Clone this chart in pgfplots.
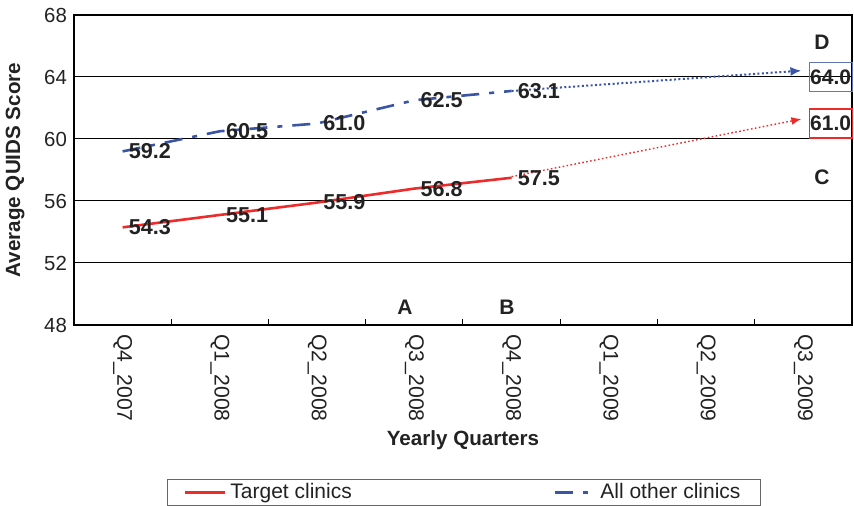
\documentclass[border=0pt]{standalone}
\usepackage{fontspec}
\setmainfont{Liberation Sans}
\usepackage{pgfplots}
\pgfplotsset{compat=1.18}
\usetikzlibrary{arrows.meta}
\definecolor{tred}{HTML}{EE2B2B}
\definecolor{oblue}{HTML}{3A55A6}
\definecolor{txt}{HTML}{222222}
\begin{document}
\begin{tikzpicture}
\begin{axis}[
  scale only axis, width=389pt, height=155pt,
  xmin=-0.5, xmax=7.5, ymin=48, ymax=68,
  clip=false,
  ytick={48,52,56,60,64,68},
  ymajorgrids, grid style={black, line width=0.5pt},
  xtick={0,...,7},
  xticklabels={Q4\_2007,Q1\_2008,Q2\_2008,Q3\_2008,Q4\_2008,Q1\_2009,Q2\_2009,Q3\_2009},
  minor xtick={0.5,1.5,...,6.5},
  tick align=inside,
  major tick length=0pt, minor tick length=3pt,
  xtick pos=left, ytick pos=left,
  ytick style={draw=none},
  minor tick style={black, line width=0.5pt},
  /pgf/number format/assume math mode=true,
  tick label style={font=\fontsize{10.2}{11}\selectfont, text=txt},
  xticklabel style={rotate=-90, anchor=west, inner xsep=4.5pt, font=\fontsize{10.6}{12}\selectfont},
  axis line style={black, line width=0.6pt},
  xlabel={Yearly Quarters},
  ylabel={Average QUIDS Score},
  label style={font=\bfseries\fontsize{10.3}{12}\selectfont, text=txt},
  xlabel style={at={(axis description cs:0.5,-0.371)}, anchor=center},
  ylabel style={at={(axis description cs:-0.0758,0.5)}, anchor=center},
  legend columns=2,
  legend style={at={(axis description cs:0.5015,-0.497)}, anchor=north,
    draw=black!60, line width=0.6pt,
    font=\fontsize{10.5}{12}\selectfont, text=txt,
    inner xsep=8pt, inner ysep=0pt,
    /tikz/every even column/.append style={column sep=99pt}},
  legend image code/.code={\draw[#1] (0pt,0pt) -- (20pt,0pt);},
  every node near coord/.append style={anchor=west, xshift=2pt, inner sep=0.5pt,
    font=\bfseries\fontsize{10.8}{12}\selectfont, text=txt},
  nodes near coords={\pgfmathprintnumber[fixed,fixed zerofill,precision=1]{\pgfplotspointmeta}},
]
\addplot[tred, line width=1.3pt] coordinates {
  (0,54.3) (1,55.1) (2,55.9) (3,56.8) (4,57.5)};
\addlegendentry{Target clinics}
\addplot[oblue, line width=1.3pt, dash pattern=on 9pt off 5pt on 2.5pt off 5pt] coordinates {
  (0,59.2) (1,60.5) (2,61.0) (3,62.5) (4,63.1)};
\addlegendentry{All other clinics}
\addplot[forget plot, tred, line width=0.7pt, dash pattern=on 0.8pt off 1.2pt,
  -{Latex[length=5pt,width=4pt]}, nodes near coords={}] coordinates {(4,57.57) (6.98,61.29)};
\addplot[forget plot, oblue, line width=1pt, dash pattern=on 1pt off 1.2pt,
  -{Latex[length=5.5pt,width=4.5pt]}, nodes near coords={}] coordinates {(4,63.1) (6.98,64.41)};
\node[draw=oblue!80, line width=0.6pt, minimum width=21.5pt, minimum height=14.5pt, inner sep=0.5pt,
  font=\bfseries\fontsize{10.5}{12}\selectfont, text=txt] at (axis cs:7.28,64.0) {64.0};
\node[draw=tred, line width=0.6pt, minimum width=21.5pt, minimum height=14.5pt, inner sep=0.5pt,
  font=\bfseries\fontsize{10.5}{12}\selectfont, text=txt] at (axis cs:7.28,61.0) {61.0};
\node[font=\bfseries\fontsize{10.5}{12}\selectfont, text=txt] at (axis cs:2.904,49.16) {A};
\node[font=\bfseries\fontsize{10.5}{12}\selectfont, text=txt] at (axis cs:3.953,49.16) {B};
\node[font=\bfseries\fontsize{10.5}{12}\selectfont, text=txt] at (axis cs:7.19,57.5) {C};
\node[font=\bfseries\fontsize{10.5}{12}\selectfont, text=txt] at (axis cs:7.19,66.26) {D};
\end{axis}
\pgfresetboundingbox
\path[use as bounding box] (-37pt,-90.5pt) rectangle (390pt,162.5pt);
\end{tikzpicture}
\end{document}
